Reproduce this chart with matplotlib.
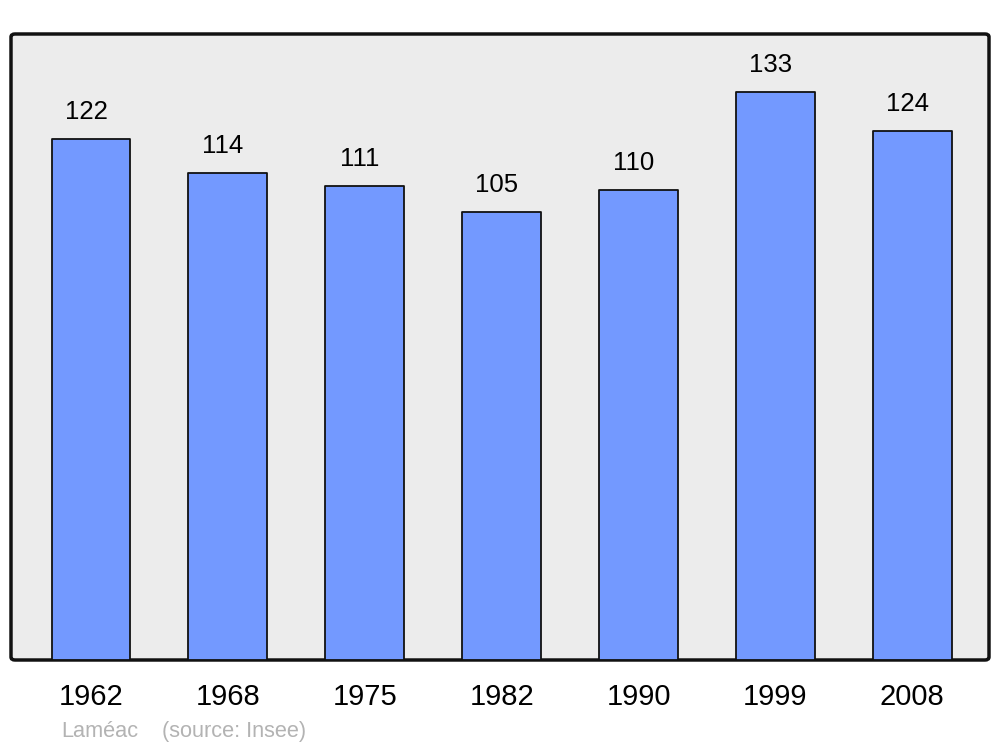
import matplotlib.pyplot as plt
from matplotlib.patches import FancyBboxPatch

# population data
years = ['1962', '1968', '1975', '1982', '1990', '1999', '2008']
population = [122, 114, 111, 105, 110, 133, 124]

plt.rcParams['font.family'] = ['Liberation Sans', 'DejaVu Sans']

fig = plt.figure(figsize=(10, 7.47), dpi=100)
left, bottom = 11 / 1000, (747 - 660) / 747
width, height = 978 / 1000, 626 / 747
ax = fig.add_axes([left, bottom, width, height])
ax.set_facecolor('none')

# rounded frame behind the axes
frame = FancyBboxPatch((left, bottom), width, height, boxstyle='round,pad=0,rounding_size=0.004',
                       transform=fig.transFigure, facecolor='#ececec', edgecolor='#111111',
                       linewidth=2.5, zorder=-5)
fig.patches.append(frame)

x = list(range(len(years)))
bars = ax.bar(x, population, width=0.575, color='#7399ff', edgecolor='#111111',
              linewidth=1.3, zorder=2)
for b in bars:
    b.set_joinstyle('round')

for xi, v in zip(x, population):
    ax.annotate(str(v), (xi, v), xytext=(-3.5, 19.3), textcoords='offset points',
                ha='center', va='center', fontsize=18.5, color='black')

ax.set_xlim(-0.584, 6.56)
ax.set_ylim(0, 146.6)
ax.set_xticks(x)
ax.set_xticklabels(years, fontsize=21)
ax.tick_params(axis='x', length=0, pad=16.5)
ax.set_yticks([])
for s in ax.spines.values():
    s.set_visible(False)

fig.text(0.061, 1 - 731.5 / 747, 'Laméac', fontsize=15.7, color='#b3b3b3', va='center')
fig.text(0.162, 1 - 731.5 / 747, '(source: Insee)', fontsize=15.7, color='#b3b3b3', va='center')

fig.savefig('out.png', dpi=100)
